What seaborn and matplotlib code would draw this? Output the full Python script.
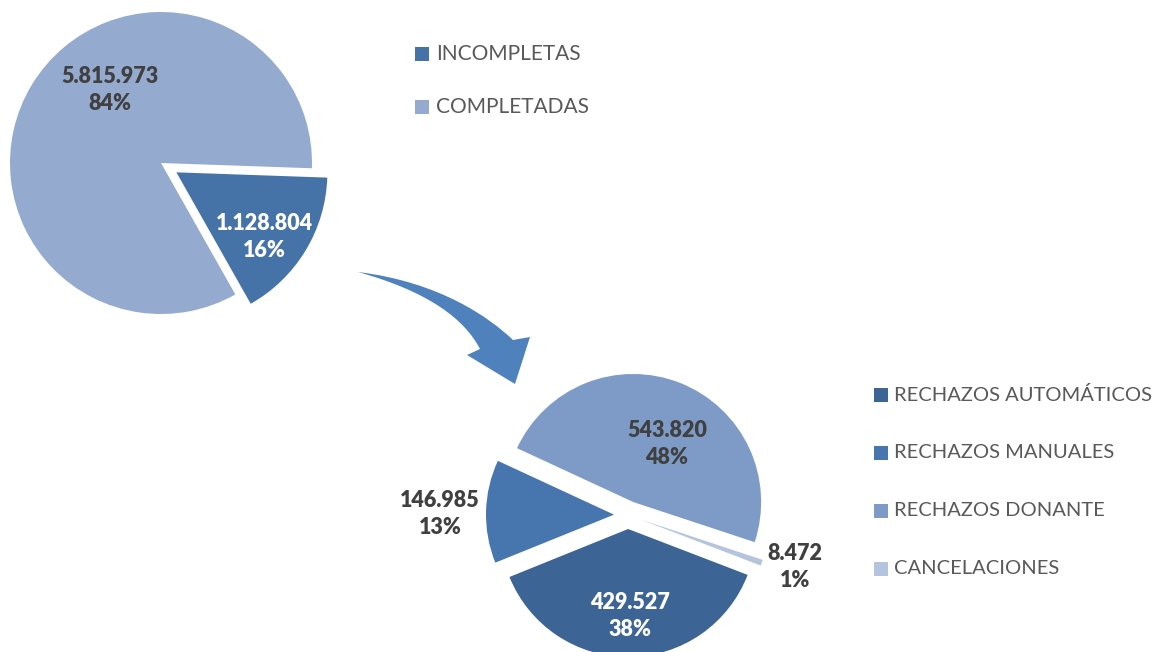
import matplotlib
matplotlib.use('Agg')
import matplotlib.pyplot as plt
from matplotlib.patches import Rectangle, PathPatch
from matplotlib.path import Path
import seaborn as sns

# data
top_labels = ['INCOMPLETAS', 'COMPLETADAS']
top_values = [1128804, 5815973]
top_colors = ['#4572A7', '#94AACF']

bottom_labels = ['RECHAZOS AUTOMÁTICOS', 'RECHAZOS MANUALES', 'RECHAZOS DONANTE', 'CANCELACIONES']
bottom_values = [429527, 146985, 543820, 8472]
bottom_colors = ['#3C6494', '#4775AE', '#7E9BC7', '#B4C4DF']

W, H = 1155, 652


def px(x, y):
    # picture pixels (y down) -> axes data (y up)
    return x, H - y


def fmt_num(v):
    return f"{v:,}".replace(',', '.')


def fmt_pct(v, total):
    return f"{round(v / total * 100)}%"


sns.set_theme(style='white')
plt.rcParams['font.family'] = ['Lato', 'DejaVu Sans']

fig = plt.figure(figsize=(W / 100, H / 100), dpi=100)
ax = fig.add_axes([0, 0, 1, 1])

# top pie
ax.pie(top_values, colors=top_colors, center=px(161, 163), radius=151,
       explode=[18, 0], startangle=-2, counterclock=False,
       wedgeprops=dict(linewidth=0), frame=True)

# bottom pie
ax.pie(bottom_values, colors=bottom_colors, center=px(628, 515), radius=128,
       explode=[14, 14, 14, 14], startangle=-21, counterclock=False,
       wedgeprops=dict(linewidth=0), frame=True)
ax.set_xlim(0, W)
ax.set_ylim(0, H)
ax.set_aspect('equal')
ax.axis('off')

# value labels
dark, light = '#404040', 'white'
top_total = sum(top_values)
bottom_total = sum(bottom_values)
top_label_pos = [(264, 237), (110, 90)]
top_label_col = [light, dark]
bottom_label_pos = [(630, 616), (440, 514), (667, 444), (795, 567)]
bottom_label_col = [light, dark, dark, dark]

for v, pos, c in zip(top_values, top_label_pos, top_label_col):
    ax.text(*px(*pos), f"{fmt_num(v)}\n{fmt_pct(v, top_total)}", ha='center', va='center',
            fontsize=15.5, fontweight='heavy', color=c, linespacing=1.35)
for v, pos, c in zip(bottom_values, bottom_label_pos, bottom_label_col):
    ax.text(*px(*pos), f"{fmt_num(v)}\n{fmt_pct(v, bottom_total)}", ha='center', va='center',
            fontsize=15.5, fontweight='heavy', color=c, linespacing=1.35)

# legends
for i, (lab, col) in enumerate(zip(top_labels, top_colors)):
    yc = 54 + i * 53
    ax.add_patch(Rectangle(px(415, yc + 7), 14, 14, color=col, lw=0))
    ax.text(*px(436, yc), lab, ha='left', va='center', fontsize=15, color='#595959')
for i, (lab, col) in enumerate(zip(bottom_labels, bottom_colors)):
    yc = 395 + i * 58
    ax.add_patch(Rectangle(px(874, yc + 7), 14, 14, color=col, lw=0))
    ax.text(*px(894, yc), lab, ha='left', va='center', fontsize=14.5, color='#595959')

# curved arrow between the pies
verts = [px(358, 272), px(440, 282), px(490, 318), px(513, 340),
         px(530, 337), px(515, 384), px(467, 355), px(480, 349),
         px(465, 320), px(430, 292), px(358, 272)]
codes = [Path.MOVETO, Path.CURVE4, Path.CURVE4, Path.CURVE4,
         Path.LINETO, Path.LINETO, Path.LINETO, Path.LINETO,
         Path.CURVE4, Path.CURVE4, Path.CURVE4]
ax.add_patch(PathPatch(Path(verts, codes), facecolor='#4F81BD', lw=0))

fig.savefig('out.png', dpi=100)
